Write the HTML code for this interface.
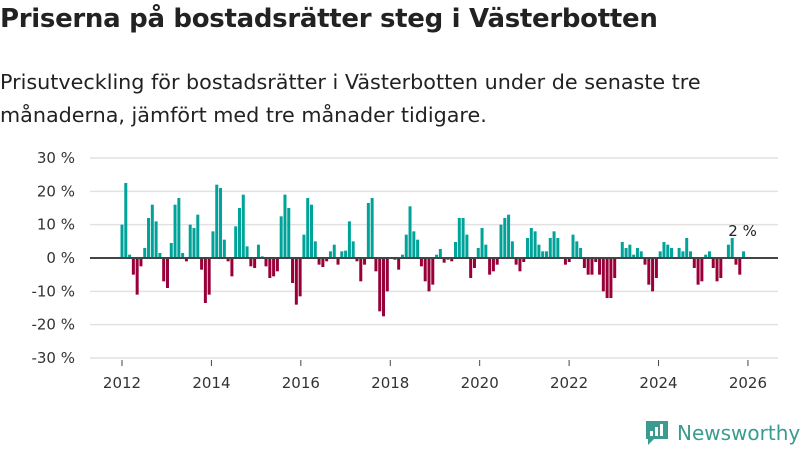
<!DOCTYPE html>
<html><head><meta charset="utf-8"><style>
body{margin:0;width:800px;height:450px;background:#fff;font-family:"Liberation Sans","DejaVu Sans",sans-serif;overflow:hidden;position:relative}
#title{position:absolute;left:0;top:4px;font-size:26px;font-weight:bold;color:#222;margin:0;font-family:"DejaVu Sans","Liberation Sans",sans-serif;letter-spacing:-0.3px}
#sub{position:absolute;left:0;top:66px;font-size:20.7px;line-height:33px;color:#222;font-family:"DejaVu Sans","Liberation Sans",sans-serif;width:790px}
svg{position:absolute;left:0;top:0}
</style></head><body>
<h1 id="title">Priserna på bostadsrätter steg i Västerbotten</h1>
<div id="sub">Prisutveckling för bostadsrätter i Västerbotten under de senaste tre månaderna, jämfört med tre månader tidigare.</div>
<svg id="chart" width="800" height="450"></svg>
<script>
const startYear = 2012;
const startMonth = 0;
const values = [10,22.5,1,-5,-11,-2.5,3,12,16,11,1.5,-7,-9,4.5,16,18,1.5,-1,10,9,13,-3.5,-13.5,-11,8,22,21,5.5,-1,-5.5,9.5,15,19,3.5,-2.5,-3,4,0.5,-2.5,-6,-5.5,-4,
12.5,19,15,-7.5,-14,-11.5,7,18,16,5,-2,-2.7,-1,2,4,-2,2,2.2,11,5,-1,-7,-2,16.5,18,-4,-16,-17.5,-10,0,-0.5,-3.5,1,7,15.5,8,5.5,-2.5,-7,-10,-8,1,
2.7,-1.4,-0.5,-1,4.8,12,12,7,-6,-3,3,9,4,-5,-4,-2,10,12,13,5,-2,-4,-1.2,6,9,8,4,2,2,6,8,6,0,-2,-1.2,7,5,3,-3,-5,-5,-1.2,-5,
-10,-12,-12,-6,0,4.8,3,4,1,3,2,-2,-8,-10,-6,2,4.8,4,3,0,3,2,6,2,-3,-8,-7,1,2,-3,-7,-6,0,4,6,-2,-5,2];
const yTicks = [30,20,10,0,-10,-20,-30];
const xTicks = [2012,2014,2016,2018,2020,2022,2024,2026];
const lastLabel = "2 %";

const NS="http://www.w3.org/2000/svg";
const svg=document.getElementById('chart');
const yS=v=>258-v*3.333;
const xS=t=>122+(t-2012)*44.71;
const barStep=3.79;
const barX=i=>xS(startYear+startMonth/12)+i*barStep;
function mk(tag,attrs,parent){const e=document.createElementNS(NS,tag);for(const k in attrs)e.setAttribute(k,attrs[k]);(parent||svg).appendChild(e);return e;}
const font='"DejaVu Sans","Liberation Sans",sans-serif';
yTicks.forEach(v=>{
  if(v!==0){const g=mk('line',{x1:90,x2:778,y1:yS(v),y2:yS(v),stroke:'#e2e2e2','stroke-width':1.5});
  
  }
  const t=mk('text',{x:75,y:yS(v)+5,'text-anchor':'end','font-size':15,fill:'#333','font-family':font});
  t.textContent=v+' %';
  
  
});
xTicks.forEach(y=>{
  const l=mk('line',{x1:xS(y),x2:xS(y),y1:360,y2:366,stroke:'#444','stroke-width':1});
  
  
  const t=mk('text',{x:xS(y),y:388,'text-anchor':'middle','font-size':15,fill:'#333','font-family':font});
  t.textContent=y;
  
  
});
values.forEach((v,i)=>{
  const x=barX(i);
  const r=mk('rect',{x:x-1.5,width:3,y:Math.min(yS(v),yS(0)),height:Math.abs(yS(v)-yS(0)),fill:v>=0?'#00a39a':'#990039'});
  
  
});
const z=mk('line',{x1:90,x2:778,y1:yS(0),y2:yS(0),stroke:'#444','stroke-width':2});


const lastX=barX(values.length-1);
const lt=mk('text',{x:lastX-1,y:236,'text-anchor':'middle','font-size':15,fill:'#222','font-family':font});
lt.textContent=lastLabel;


const lg=mk('g',{});


mk('path',{d:'M646 421 h22 v18 h-14 l-6 6 v-6 h-2 z',fill:'#3a9b8f'},lg);
mk('rect',{x:650,y:431,width:3,height:5,fill:'#fff'},lg);
mk('rect',{x:655,y:427,width:3,height:9,fill:'#fff'},lg);
mk('rect',{x:660,y:424,width:3,height:12,fill:'#fff'},lg);
const lt2=mk('text',{x:677,y:440,'font-size':20,fill:'#3a9b8f','font-family':font},lg);
lt2.textContent='Newsworthy';
</script>
</body></html>
